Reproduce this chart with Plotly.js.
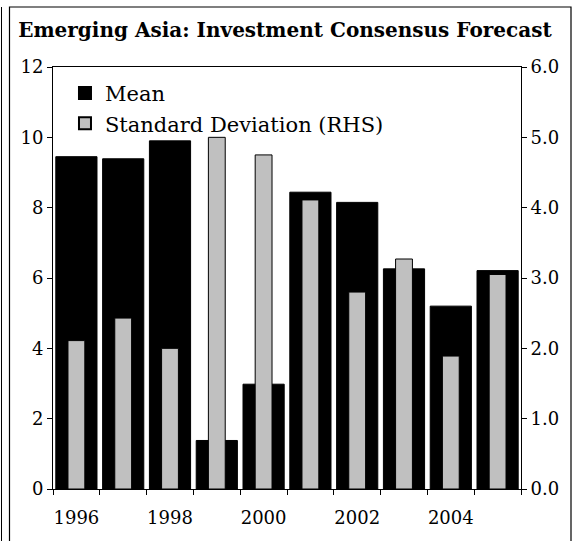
<!DOCTYPE html>
<html>
<head>
<meta charset="utf-8">
<script src="https://cdn.plot.ly/plotly-3.0.1.min.js"></script>
<style>html,body{margin:0;padding:0;background:#fff;}#chart{width:578px;height:541px;}</style>
</head>
<body>
<div id="chart"></div>
<script>
var years = ['1996','1997','1998','1999','2000','2001','2002','2003','2004','2005'];
var tickLabels = ['1996','','1998','','2000','','2002','','2004',''];
var meanValues = [9.45, 9.39, 9.90, 1.38, 2.98, 8.44, 8.15, 6.26, 5.20, 6.21];
var sdValues = [2.11, 2.43, 2.00, 5.00, 4.75, 4.11, 2.80, 3.27, 1.89, 3.05];

var FONT = "'DejaVu Serif', 'Liberation Serif', serif";

var traces = [
  {
    type: 'bar', name: 'Mean', x: years, y: meanValues, yaxis: 'y',
    width: 0.88,
    marker: {color: '#000000', line: {color: '#000000', width: 1}}
  },
  {
    type: 'bar', name: 'Standard Deviation (RHS)', x: years, y: sdValues, yaxis: 'y2',
    width: 0.36,
    marker: {color: '#C0C0C0', line: {color: '#000000', width: 1}}
  }
];

var layout = {
  width: 578, height: 541,
  margin: {l: 53, r: 57, t: 67, b: 52, pad: 0},
  paper_bgcolor: '#ffffff', plot_bgcolor: '#ffffff',
  font: {family: FONT, size: 19, color: '#000000'},
  barmode: 'overlay',
  showlegend: true,
  title: {
    text: '<b>Emerging Asia: Investment Consensus Forecast</b>',
    font: {family: FONT, size: 20, color: '#000000'},
    x: 0.493, xref: 'container', xanchor: 'center',
    y: 0.945, yref: 'container', yanchor: 'middle'
  },
  legend: {
    x: 0.0256, y: 0.986, xanchor: 'left', yanchor: 'top',
    bgcolor: 'rgba(0,0,0,0)', borderwidth: 0,
    font: {family: FONT, size: 21, color: '#000000'},
    itemsizing: 'constant', tracegroupgap: 0, itemwidth: 30
  },
  xaxis: {
    type: 'category',
    tickvals: years, ticktext: tickLabels,
    tickson: 'boundaries', tickangle: 0,
    ticks: 'outside', ticklen: 5, tickwidth: 1, tickcolor: '#000',
    showline: true, linecolor: '#000', linewidth: 1, mirror: true,
    showgrid: false, zeroline: false,
    ticklabelstandoff: 12,
    tickfont: {family: FONT, size: 18, color: '#000'},
    fixedrange: true
  },
  yaxis: {
    range: [0, 12], dtick: 2, tick0: 0,
    ticks: 'outside', ticklen: 5, tickwidth: 1, tickcolor: '#000',
    showline: true, linecolor: '#000', linewidth: 1,
    showgrid: false, zeroline: false,
    tickfont: {family: FONT, size: 18, color: '#000'},
    fixedrange: true
  },
  yaxis2: {
    range: [0, 6], dtick: 1, tick0: 0, tickformat: '.1f',
    overlaying: 'y', side: 'right',
    ticks: 'outside', ticklen: 5, tickwidth: 1, tickcolor: '#000',
    showline: true, linecolor: '#000', linewidth: 1,
    showgrid: false, zeroline: false,
    tickfont: {family: FONT, size: 18, color: '#000'},
    fixedrange: true
  },
  shapes: [
    {type: 'rect', xref: 'paper', yref: 'paper',
     x0: (9.5-53)/468, x1: (571-53)/468, y0: -0.2, y1: 1 + 60/422,
     line: {color: '#000', width: 1.2}, fillcolor: 'rgba(0,0,0,0)'},
    {type: 'line', xref: 'paper', yref: 'paper',
     x0: (1.5-53)/468, x1: (1.5-53)/468, y0: -0.2, y1: 1 + 60/422,
     line: {color: '#000', width: 1}}
  ]
};

Plotly.newPlot('chart', traces, layout, {displayModeBar: false, staticPlot: true});
</script>
</body>
</html>
